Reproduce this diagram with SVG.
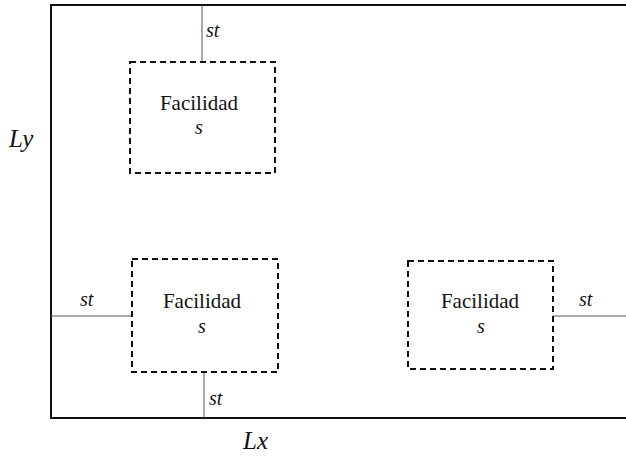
<svg xmlns="http://www.w3.org/2000/svg" width="626" height="459" viewBox="0 0 626 459">
<style>
.frame{fill:none;stroke:#111;stroke-width:2}
.fac{fill:none;stroke:#111;stroke-width:2;stroke-dasharray:6,4}
.conn{fill:none;stroke:#555;stroke-width:1}
.t{font-size:21px;text-anchor:middle;fill:#111}
.i{font-style:italic;font-size:20px;fill:#111}
.ax{font-style:italic;font-size:25px;fill:#111}
</style>
<rect width="626" height="459" fill="#fff"/>
<g font-family="Liberation Serif, Times New Roman, DejaVu Serif, serif">
<g id="frame">
<polyline class="frame" points="626,5 51,5 51,418 626,418"/>
<text class="ax" x="9" y="147">Ly</text>
<text class="ax" x="243" y="449">Lx</text>
</g>
<g id="connectors">
<line class="conn" x1="202" y1="5" x2="202" y2="62"/>
<text class="i" x="206" y="37">st</text>
<line class="conn" x1="51" y1="316" x2="132" y2="316"/>
<text class="i" x="80" y="306">st</text>
<line class="conn" x1="204" y1="372" x2="204" y2="418"/>
<text class="i" x="209" y="405">st</text>
<line class="conn" x1="553" y1="316" x2="626" y2="316"/>
<text class="i" x="579" y="306">st</text>
</g>
<g id="facility1">
<rect class="fac" x="130" y="62" width="145" height="111"/>
<text class="t" x="199" y="110">Facilidad</text>
<text class="i" x="199" y="134" text-anchor="middle">s</text>
</g>
<g id="facility2">
<rect class="fac" x="132" y="259" width="146" height="113"/>
<text class="t" x="202" y="308">Facilidad</text>
<text class="i" x="202" y="333" text-anchor="middle">s</text>
</g>
<g id="facility3">
<rect class="fac" x="408" y="261" width="145" height="108"/>
<text class="t" x="480" y="308">Facilidad</text>
<text class="i" x="481" y="333" text-anchor="middle">s</text>
</g>
</g>
</svg>
